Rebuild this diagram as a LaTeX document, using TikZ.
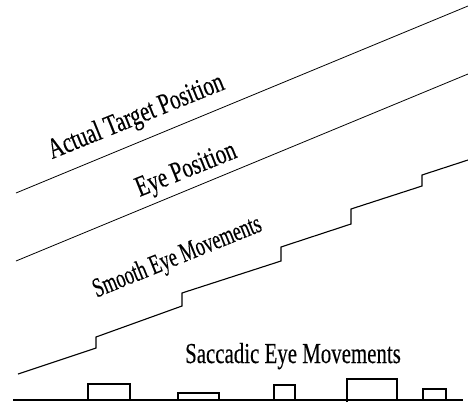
\documentclass[tikz,border=0pt]{standalone}
\usepackage{fontspec}
\newfontfamily\labfont[FakeStretch=0.72,FakeBold=0.3]{Liberation Serif}
\newfontfamily\narrowfont[FakeStretch=0.66,FakeBold=0.3]{Liberation Serif}
\tikzset{
  thinline/.style={line width=0.8pt, black},
  stairline/.style={line width=1.1pt, black, line join=miter},
  baseline/.style={line width=1.8pt, black},
  pulse/.style={line width=1.4pt, black},
  lab/.style={font=\labfont\fontsize{29}{31}\selectfont, inner sep=0pt, anchor=base},
  narrowlab/.style={font=\narrowfont\fontsize{27.5}{29}\selectfont, inner sep=0pt, anchor=base},
}
\begin{document}
\begin{tikzpicture}[x=1pt,y=-1pt]
\useasboundingbox (0,0) rectangle (468,405);
% target and eye position lines
\coordinate (t0) at (16,193); \coordinate (t1) at (468,6);
\coordinate (e0) at (16,261); \coordinate (e1) at (468,74);
\draw[thinline] (t0) -- (t1);
\draw[thinline] (e0) -- (e1);
% staircase
\draw[stairline] (18,374) -- (96,348) -- (96,337) -- (182,306) -- (182,293)
  -- (281,261) -- (281,247) -- (351,224) -- (351,209) -- (422,186) -- (422,175) -- (468,160);
% baseline with pulses
\coordinate (b0) at (13,400); \coordinate (b1) at (463,400);
\draw[baseline] (b0) -- (b1);
\draw[pulse] (88,400) |- (130,384) -- (130,400);
\draw[pulse] (178,400) |- (219,393) -- (219,400);
\draw[pulse] (274,400) |- (295,385) -- (295,400);
\draw[pulse] (347,402) |- (397,379) -- (397,400);
\draw[pulse] (423,400) |- (446,389) -- (446,400);
% labels
\node[lab, rotate=22] (atp) at (139,124) {Actual Target Position};
\node[lab, rotate=22] (ep) at (189,177) {Eye Position};
\node[narrowlab, rotate=22] (sem) at (180,264) {Smooth Eye Movements};
\node[lab] (sac) at (293,363) {Saccadic Eye Movements};
\end{tikzpicture}
\end{document}
